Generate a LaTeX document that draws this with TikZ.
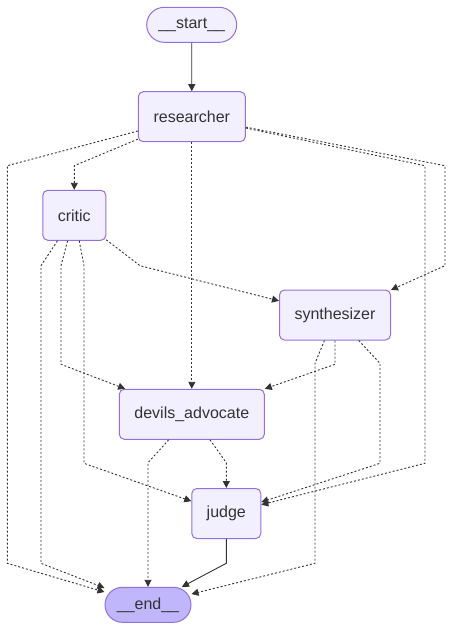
\documentclass[tikz,border=0pt]{standalone}
\usepackage{fontspec}
\setmainfont{Liberation Sans}
\usetikzlibrary{arrows.meta}
\definecolor{nodefill}{HTML}{F2F0FF}
\definecolor{nodeborder}{HTML}{9370DB}
\definecolor{endfill}{HTML}{BFB6FC}
\definecolor{edgecol}{HTML}{333333}
\begin{document}
\begin{tikzpicture}[x=1pt,y=-1pt,
  box/.style={draw=nodeborder,fill=nodefill,line width=1pt,rounded corners=5pt,
    inner sep=0pt,minimum height=50pt,text=edgecol,font=\fontsize{16}{19}\selectfont},
  stadium/.style={box,rounded corners=17.5pt,minimum height=35pt},
  edgebase/.style={draw=edgecol,line width=0.9pt,-{Triangle[length=7pt,width=7pt]}},
  solidedge/.style={edgebase},
  dotedge/.style={edgebase,dash pattern=on 2pt off 2pt}]
\useasboundingbox[fill=white] (0,0) rectangle (454,630);
% nodes
\node[stadium,minimum width=90pt] (start) at (191.7,24.8) {\_\_start\_\_};
\node[box,minimum width=107pt] (researcher) at (191.8,116.7) {researcher};
\node[box,minimum width=63pt] (critic) at (74.3,215.3) {critic};
\node[box,minimum width=111pt] (synth) at (335,315) {synthesizer};
\node[box,minimum width=145pt] (devils) at (191.8,414.3) {devils\_advocate};
\node[box,minimum width=69pt] (judge) at (226.3,513.5) {judge};
\node[stadium,minimum width=86pt,fill=endfill] (end) at (148,604.8) {\_\_end\_\_};
% edges
\draw[solidedge] (start) -- (researcher);
\draw[dotedge] (researcher) -- (74.3,165.7) -- (critic);
\draw[dotedge] (researcher) -- (7.3,165.7) -- (7.3,563.3) -- (end);
\draw[dotedge] (researcher) -- (devils);
\draw[dotedge] (researcher) -- (445,165.7) -- (445,265.7) -- (synth);
\draw[dotedge] (researcher) -- (425,165.7) -- (425,463.3) -- (judge);
\draw[dotedge] (critic) -- (41,265.7) -- (41,563.3) -- (end);
\draw[dotedge] (critic) -- (61,265.7) -- (61,364.3) -- (devils);
\draw[dotedge] (critic) -- (84,265.7) -- (84,463.3) -- (judge);
\draw[dotedge] (critic) -- (140,265.7) -- (synth);
\draw[dotedge] (synth) -- (315,363.3) -- (315,563.3) -- (end);
\draw[dotedge] (synth) -- (335,364.3) -- (devils);
\draw[dotedge] (synth) -- (380,363.3) -- (380,463.3) -- (judge);
\draw[dotedge] (devils) -- (148,462.7) -- (end);
\draw[dotedge] (devils) -- (226.3,462.7) -- (judge);
\draw[solidedge] (judge) -- (226.3,563.3) -- (end);
\end{tikzpicture}
\end{document}
